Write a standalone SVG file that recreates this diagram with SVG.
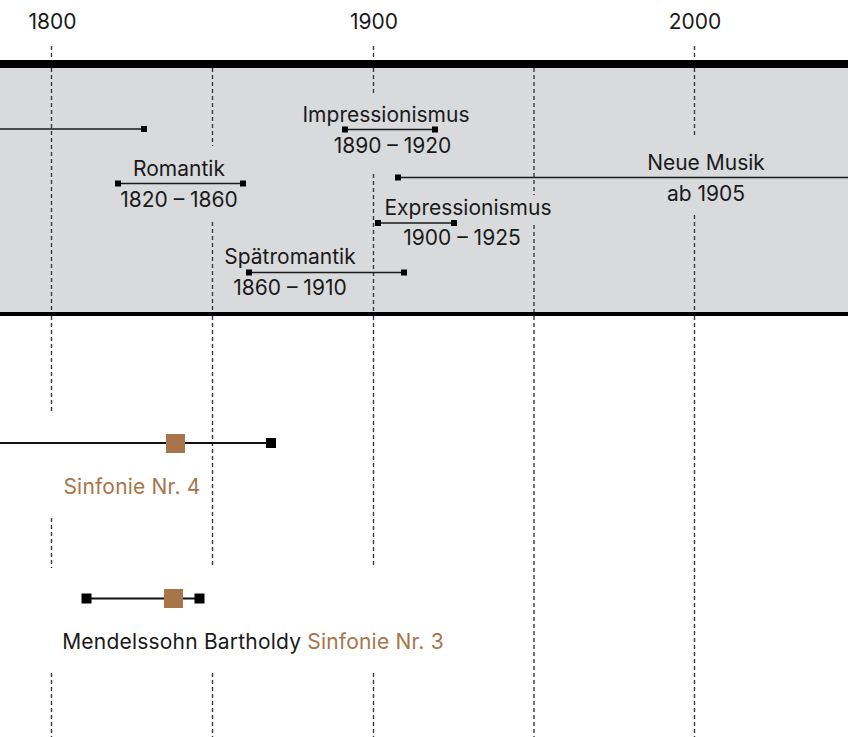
<svg xmlns="http://www.w3.org/2000/svg" width="848" height="737" viewBox="0 0 848 737">
<style>
.t{font-family:Inter,"Liberation Sans",sans-serif;font-size:21px;fill:#1a1a1a;text-anchor:middle}
.lo{letter-spacing:0.2px}
.br{fill:#a8754a}
.grid{stroke:#3a3a3a;stroke-width:1.4;stroke-dasharray:4 3;fill:none}
.bar{stroke:#1a1a1a;stroke-width:1.5}
.bar2{stroke:#111;stroke-width:2.2}
.sq{fill:#000}
.bsq{fill:#a8754a}
</style>
<rect width="848" height="737" fill="#fff"/>
<rect x="0" y="68" width="848" height="244" fill="#d9dadc"/>
<rect x="0" y="60" width="848" height="8" fill="#000"/>
<rect x="0" y="312" width="848" height="4" fill="#000"/>
<g id="axis">
<text class="t" x="52.5" y="29">1800</text>
<text class="t" x="374" y="29">1900</text>
<text class="t" x="695" y="29">2000</text>
</g>
<g id="grid">
<path class="grid" d="M51.5 46V60M373.5 46V60M694.5 46V60"/>
<path class="grid" d="M51.5 68V312M51.5 316V412M51.5 518V568M51.5 673V737"/>
<path class="grid" d="M212.5 68V146M212.5 222V312M212.5 316V568M212.5 673V737"/>
<path class="grid" d="M373.5 68V96M373.5 174V312M373.5 316V568M373.5 673V737"/>
<path class="grid" d="M534 68V195M534 225V312M534 316V737"/>
<path class="grid" d="M694.5 68V137M694.5 215V312M694.5 316V737"/>
</g>
<g id="klassik">
<line class="bar" x1="0" y1="129" x2="144" y2="129"/>
<rect class="sq" x="141" y="126" width="6" height="6"/>
</g>
<g id="romantik">
<line class="bar" x1="118" y1="183.5" x2="243" y2="183.5"/>
<rect class="sq" x="115" y="180.5" width="6" height="6"/>
<rect class="sq" x="240" y="180.5" width="6" height="6"/>
<text class="t" x="179" y="176">Romantik</text>
<text class="t" x="179" y="207">1820 – 1860</text>
</g>
<g id="impressionismus">
<line class="bar" x1="345" y1="129.5" x2="435" y2="129.5"/>
<rect class="sq" x="342" y="126.5" width="6" height="6"/>
<rect class="sq" x="432" y="126.5" width="6" height="6"/>
<text class="t" x="386" y="122">Impressionismus</text>
<text class="t" x="392.5" y="153">1890 – 1920</text>
</g>
<g id="neuemusik">
<line class="bar" x1="398" y1="177.5" x2="848" y2="177.5"/>
<rect class="sq" x="395" y="174.5" width="6" height="6"/>
<text class="t" x="706" y="170">Neue Musik</text>
<text class="t" x="706" y="201">ab 1905</text>
</g>
<g id="expressionismus">
<line class="bar" x1="378" y1="223" x2="454" y2="223"/>
<rect class="sq" x="375" y="220" width="6" height="6"/>
<rect class="sq" x="451" y="220" width="6" height="6"/>
<text class="t" x="468" y="215">Expressionismus</text>
<text class="t" x="462" y="245">1900 – 1925</text>
</g>
<g id="spaetromantik">
<line class="bar" x1="249" y1="272.5" x2="404" y2="272.5"/>
<rect class="sq" x="246" y="269.5" width="6" height="6"/>
<rect class="sq" x="401" y="269.5" width="6" height="6"/>
<text class="t" x="290" y="264">Spätromantik</text>
<text class="t" x="290" y="295">1860 – 1910</text>
</g>
<g id="sinfonie4">
<line class="bar2" x1="0" y1="443" x2="271" y2="443"/>
<rect class="sq" x="266" y="438" width="10" height="10"/>
<rect class="bsq" x="166" y="434" width="19" height="19"/>
<text class="t br lo" x="132" y="494">Sinfonie Nr. 4</text>
</g>
<g id="sinfonie3">
<line class="bar2" x1="86.5" y1="598.5" x2="199.5" y2="598.5"/>
<rect class="sq" x="81.5" y="593.5" width="10" height="10"/>
<rect class="sq" x="194.5" y="593.5" width="10" height="10"/>
<rect class="bsq" x="164" y="589" width="19" height="19"/>
<text class="t lo" x="253" y="649">Mendelssohn Bartholdy <tspan class="br">Sinfonie Nr. 3</tspan></text>
</g>
</svg>
